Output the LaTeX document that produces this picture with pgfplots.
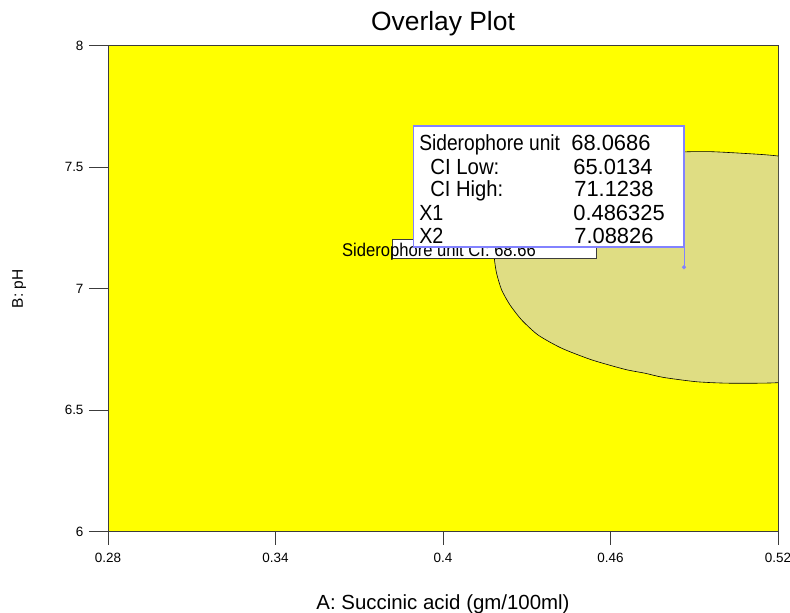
\documentclass[border=0pt]{standalone}
\usepackage{pgfplots}
\pgfplotsset{compat=1.18}
\usepackage{fontspec}
\setmainfont{Liberation Sans}

\definecolor{regionyellow}{RGB}{255,255,0}
\definecolor{ciregion}{RGB}{223,221,131}
\definecolor{flagblue}{RGB}{130,130,255}
\definecolor{framegray}{RGB}{60,60,60}

\newcommand{\fs}[1]{\fontsize{#1}{#1}\selectfont}

\begin{document}
\begin{tikzpicture}[x=1bp,y=1bp]
\path[use as bounding box] (-108,-81.3) rectangle (682,531.7);
\begin{axis}[
  at={(0,0)}, anchor=south west,
  scale only axis, width=670bp, height=486bp,
  xmin=0.28, xmax=0.52, ymin=6, ymax=8,
  axis background/.style={fill=regionyellow},
  axis line style={draw=framegray, line width=0.9bp},
  xtick={0.28,0.34,0.4,0.46,0.52},
  xticklabels={0.28,0.34,0.4,0.46,0.52},
  ytick={6,6.5,7,7.5,8},
  yticklabels={6,6.5,7,7.5,8},
  xtick pos=bottom, ytick pos=left,
  tick align=outside,
  major tick length=19bp,
  xtick style={/pgfplots/major tick length=13bp},
  tick style={draw=framegray, line width=0.8bp},
  ticklabel style={font=\fs{13.5}},
  xticklabel style={yshift=1bp},
  yticklabel style={xshift=-2bp},
  title={Overlay Plot},
  title style={font=\fs{26.5}, at={(axis description cs:0.5,1)}, anchor=base, yshift=9.5bp},
  xlabel={A: Succinic acid (gm/100ml)},
  xlabel style={font=\fs{20.5}, at={(axis description cs:0.5,0)}, anchor=base, yshift=-77.8bp},
  ylabel={B: pH},
  ylabel style={font=\fs{15.5}, at={(axis description cs:-0.1269,0.5)}, anchor=base},
]

% confidence-interval region for Siderophore unit
\addplot[fill=ciregion, draw=black, line width=0.6bp, smooth, tension=0.4] coordinates {
  (0.5816,7.077) (0.5637,7.365) (0.5386,7.509) (0.5200,7.546)
  (0.5075,7.557) (0.4956,7.564) (0.4867,7.563) (0.4777,7.554)
  (0.4652,7.534) (0.4527,7.501) (0.4419,7.456) (0.4330,7.394)
  (0.4258,7.316) (0.4211,7.229) (0.4188,7.167) (0.4184,7.125)
  (0.4192,7.063) (0.4210,6.995) (0.4240,6.933) (0.4282,6.871)
  (0.4341,6.809) (0.4425,6.755) (0.4533,6.707) (0.4652,6.668)
  (0.4724,6.652) (0.4789,6.635) (0.4909,6.617) (0.5028,6.611)
  (0.5195,6.613) (0.5386,6.633) (0.5637,6.789)
} --cycle;

% contour label
\fill[white, draw=framegray, line width=0.7bp]
  (axis cs:0.3817,7.2045) rectangle (axis cs:0.4548,7.1263);
\node[anchor=base west, inner sep=0pt, font=\fs{18.5}] at (axis cs:0.3638,7.1317)
  {\scalebox{0.9}[1]{Siderophore unit CI: 68.66}};

% flagged design point
\addplot[flagblue, line width=1bp] coordinates {(0.486325,7.1716) (0.486325,7.08826)};
\addplot[only marks, mark=*, mark size=1.8bp, flagblue] coordinates {(0.486325,7.08826)};

\coordinate (cb) at (axis cs:0.3893,7.6695);
\coordinate (cc) at (axis cs:0.486325,7.1716);
\end{axis}

% flag box
\fill[white, draw=flagblue, line width=1.2bp] (cb) rectangle (cc);
\begin{scope}[every node/.style={anchor=base west, inner sep=0pt, font=\fs{22}}]
  \node at ([shift={(6,-24.7)}]cb) {\scalebox{0.875}[1]{Siderophore unit}};
  \node at ([shift={(17,-48)}]cb) {\scalebox{0.93}[1]{CI Low:}};
  \node at ([shift={(17,-70.7)}]cb) {\scalebox{0.92}[1]{CI High:}};
  \node at ([shift={(6,-94)}]cb) {\scalebox{0.9}[1]{X1}};
  \node at ([shift={(6,-117.3)}]cb) {\scalebox{0.9}[1]{X2}};
  \node at ([shift={(158,-24.7)}]cb) {68.0686};
  \node at ([shift={(160,-48)}]cb) {65.0134};
  \node at ([shift={(161,-70.7)}]cb) {71.1238};
  \node at ([shift={(160,-94)}]cb) {0.486325};
  \node at ([shift={(161,-117.3)}]cb) {7.08826};
\end{scope}
\end{tikzpicture}
\end{document}
